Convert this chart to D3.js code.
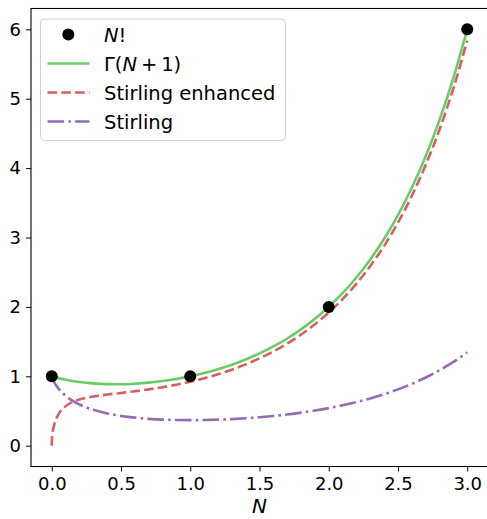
<!DOCTYPE html>
<html><head><meta charset="utf-8">
<script src="https://cdn.jsdelivr.net/npm/d3@7/dist/d3.min.js"></script>
<style>body{margin:0;background:#fff}svg{display:block}text{font-family:"DejaVu Sans",sans-serif;fill:#000}</style>
</head><body><svg id="c" width="487" height="519"></svg>
<script>
// Data
const factN = [0, 1, 2, 3];
const factV = [1, 1, 2, 6];
const xs = [0,0.001,0.005,0.01,0.02,0.03,0.05,0.1,0.2,0.3,0.4,0.5,0.6,0.7,0.8,0.9,1.0,1.1,1.2,1.3,1.4,1.5,1.6,1.7,1.8,1.9,2.0,2.1,2.2,2.3,2.4,2.5,2.6,2.7,2.8,2.9,3.0];
const gammaV = [1,0.9994,0.9971,0.9943,0.9888,0.9835,0.9735,0.9514,0.9182,0.8975,0.8873,0.8862,0.8935,0.9086,0.9314,0.9618,1,1.0465,1.1018,1.1667,1.2422,1.3293,1.4296,1.5447,1.6765,1.8274,2,2.1976,2.4240,2.6834,2.9812,3.3234,3.7170,4.1707,4.6942,5.2993,6];
const stirEnhV = [0,0.0787,0.1717,0.2370,0.3213,0.3793,0.4590,0.5697,0.6652,0.7087,0.7367,0.7602,0.7844,0.8114,0.8428,0.8794,0.9222,0.9719,1.0294,1.0955,1.1715,1.2584,1.3580,1.4717,1.6015,1.7497,1.9188,2.1127,2.3345,2.5888,2.8799,3.2150,3.6000,4.0447,4.5572,5.1497,5.8360];
const stirV = [1,0.9921,0.9690,0.9455,0.9064,0.8735,0.8189,0.7187,0.5934,0.5162,0.4647,0.4289,0.4040,0.3869,0.3759,0.3698,0.3679,0.3697,0.3749,0.3833,0.3950,0.4099,0.4283,0.4503,0.4762,0.5064,0.5413,0.5816,0.6279,0.6810,0.7416,0.8112,0.8907,0.9820,1.0865,1.2064,1.3442];
const xTicks = [0,0.5,1,1.5,2,2.5,3];
const yTicks = [0,1,2,3,4,5,6];
const legendLabels = ["N!", "Γ(N + 1)", "Stirling enhanced", "Stirling"];

const svg = d3.select("#c");
const L = 31, R = 488, T = 8.5, B = 466.5;
const x = d3.scaleLinear().domain([-0.15, 3.15]).range([L, R]);
const y = d3.scaleLinear().domain([-0.3, 6.3]).range([B, T]);
const FS = 18;

const clip = svg.append("clipPath").attr("id","clp").append("rect")
  .attr("x",L).attr("y",T).attr("width",R-L).attr("height",B-T);
const plot = svg.append("g").attr("clip-path","url(#clp)");

const line = vals => d3.line().x((d,i)=>x(xs[i])).y(d=>y(d)).curve(d3.curveMonotoneX)(vals);
plot.append("path").attr("d", line(gammaV)).attr("fill","none").attr("stroke","#6ACC64").attr("stroke-width",2.6);
plot.append("path").attr("d", line(stirEnhV)).attr("fill","none").attr("stroke","#D65F5F").attr("stroke-width",2.6).attr("stroke-dasharray","9.6,4.2");
plot.append("path").attr("d", line(stirV)).attr("fill","none").attr("stroke","#956CB4").attr("stroke-width",2.6).attr("stroke-dasharray","16.6,4.2,2.6,4.2");
svg.append("g").selectAll("circle").data(factN).join("circle")
  .attr("cx",d=>x(d)).attr("cy",(d,i)=>y(factV[i])).attr("r",6).attr("fill","#000");

// axes
const xa = svg.append("g").attr("transform",`translate(0,${B})`)
  .call(d3.axisBottom(x).tickValues(xTicks).tickFormat(d3.format(".1f")).tickSize(5).tickPadding(6));
const ya = svg.append("g").attr("transform",`translate(${L},0)`)
  .call(d3.axisLeft(y).tickValues(yTicks).tickFormat(d3.format("d")).tickSize(5).tickPadding(5));
[xa, ya].forEach(a=>{
  a.select(".domain").remove();
  a.selectAll("line").attr("stroke","#000").attr("stroke-width",1);
  a.selectAll("text").attr("font-size",FS).attr("font-family","DejaVu Sans");
});
svg.append("rect").attr("x",L).attr("y",T).attr("width",R-L).attr("height",B-T)
  .attr("fill","none").attr("stroke","#000").attr("stroke-width",1.1);

svg.append("text").attr("x",(L+R)/2).attr("y",513).attr("text-anchor","middle")
  .attr("font-size",20).attr("font-style","italic").text("N");

// legend
const lg = svg.append("g");
lg.append("rect").attr("x",40.5).attr("y",19).attr("width",245).attr("height",121.5).attr("rx",4)
  .attr("fill","#fff").attr("fill-opacity",0.8).attr("stroke","#d0d0d0").attr("stroke-width",1);
const rowY = [34.5, 63.5, 92.5, 121.5];
const LFS = 19.5;
lg.append("circle").attr("cx",68.3).attr("cy",rowY[0]).attr("r",6).attr("fill","#000");
const styles = [null, ["#6ACC64",null], ["#D65F5F","9.6,4.2"], ["#956CB4","16.6,4.2,2.6,4.2"]];
for (let i=1;i<4;i++){
  lg.append("line").attr("x1",47.5).attr("x2",89.5).attr("y1",rowY[i]).attr("y2",rowY[i])
    .attr("stroke",styles[i][0]).attr("stroke-width",2.6).attr("stroke-dasharray",styles[i][1]);
}
const t0 = lg.append("text").attr("x",104).attr("y",rowY[0]+7).attr("font-size",LFS);
t0.append("tspan").attr("font-style","italic").text("N");
t0.append("tspan").text("!");
const t1 = lg.append("text").attr("x",104).attr("y",rowY[1]+7).attr("font-size",LFS);
t1.append("tspan").text("Γ(");
t1.append("tspan").attr("font-style","italic").text("N");
t1.append("tspan").text("\u2009+\u20091)");
lg.append("text").attr("x",104).attr("y",rowY[2]+7).attr("font-size",LFS).text(legendLabels[2]);
lg.append("text").attr("x",104).attr("y",rowY[3]+7).attr("font-size",LFS).text(legendLabels[3]);
</script></body></html>
